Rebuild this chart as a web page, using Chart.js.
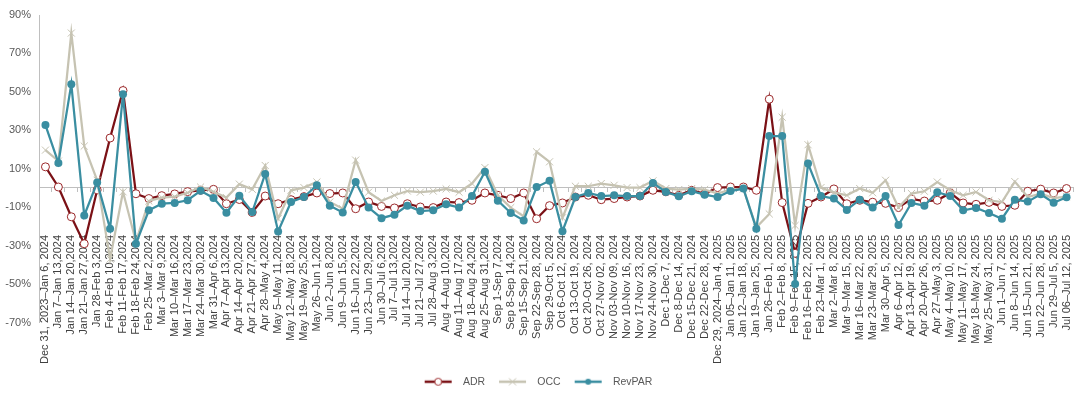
<!DOCTYPE html>
<html>
<head>
<meta charset="utf-8">
<script src="https://cdn.jsdelivr.net/npm/chart.js@4.4.1/dist/chart.umd.min.js"></script>
<style>
  html, body { margin: 0; padding: 0; background: #fff; }
  #wrap { width: 1080px; height: 399px; position: relative; }
</style>
</head>
<body>
<div id="wrap"><canvas id="chart"></canvas></div>
<script>
// Weekly periods (x axis)
const weeks = [
  "Dec 31, 2023–Jan 6, 2024", "Jan 7–Jan 13,2024", "Jan 14–Jan 20,2024", "Jan 21–Jan 27,2024",
  "Jan 28-Feb 3,2024", "Feb 4-Feb 10,2024", "Feb 11-Feb 17,2024", "Feb 18-Feb 24,2024",
  "Feb 25–Mar 2,2024", "Mar 3–Mar 9,2024", "Mar 10–Mar 16,2024", "Mar 17–Mar 23,2024",
  "Mar 24–Mar 30,2024", "Mar 31–Apr 6,2024", "Apr 7–Apr 13,2024", "Apr 14–Apr 20,2024",
  "Apr 21–Apr 27,2024", "Apr 28–May 4,2024", "May 5–May 11,2024", "May 12–May 18,2024",
  "May 19–May 25,2024", "May 26–Jun 1,2024", "Jun 2–Jun 8,2024", "Jun 9–Jun 15,2024",
  "Jun 16–Jun 22,2024", "Jun 23–Jun 29,2024", "Jun 30–Jul 6,2024", "Jul 7–Jul 13,2024",
  "Jul 14–Jul 20,2024", "Jul 21–Jul 27,2024", "Jul 28–Aug 3,2024", "Aug 4–Aug 10,2024",
  "Aug 11–Aug 17,2024", "Aug 18–Aug 24,2024", "Aug 25–Aug 31,2024", "Sep 1-Sep 7,2024",
  "Sep 8-Sep 14,2024", "Sep 15-Sep 21,2024", "Sep 22-Sep 28, 2024", "Sep 29-Oct 5, 2024",
  "Oct 6-Oct 12, 2024", "Oct 13-Oct 19, 2024", "Oct 20-Oct 26, 2024", "Oct 27-Nov 02, 2024",
  "Nov 03-Nov 09, 2024", "Nov 10-Nov 16, 2024", "Nov 17-Nov 23, 2024", "Nov 24-Nov 30, 2024",
  "Dec 1-Dec 7, 2024", "Dec 8-Dec 14, 2024", "Dec 15-Dec 21, 2024", "Dec 22-Dec 28, 2024",
  "Dec 29, 2024–Jan 4, 2025", "Jan 05–Jan 11, 2025", "Jan 12–Jan 18, 2025", "Jan 19–Jan 25, 2025",
  "Jan 26–Feb 1, 2025", "Feb 2–Feb 8, 2025", "Feb 9–Feb 15, 2025", "Feb 16–Feb 22, 2025",
  "Feb 23–Mar 1, 2025", "Mar 2–Mar 8, 2025", "Mar 9–Mar 15, 2025", "Mar 16–Mar 22, 2025",
  "Mar 23–Mar 29, 2025", "Mar 30–Apr 5, 2025", "Apr 6–Apr 12, 2025", "Apr 13–Apr 19, 2025",
  "Apr 20–Apr 26, 2025", "Apr 27–May 3, 2025", "May 4–May 10, 2025", "May 11–May 17, 2025",
  "May 18–May 24, 2025", "May 25–May 31, 2025", "Jun 1–Jun 7, 2025", "Jun 8–Jun 14, 2025",
  "Jun 15–Jun 21, 2025", "Jun 22–Jun 28, 2025", "Jun 29–Jul 5, 2025", "Jul 06–Jul 12, 2025"
];

// Year-over-year change, %
const adr = [
  11, 0.5, -15, -29, -1, 26, 50.7, -3, -5.5, -4,
  -3.1, -1.9, -1.2, -0.7, -8.2, -6, -12.7, -4.2, -8.2, -6.1,
  -4.5, -2.6, -2.9, -2.6, -10.8, -7.3, -9.6, -10.4, -8.2, -9.9,
  -10.2, -7.3, -7.6, -6.4, -2.6, -3.8, -5.5, -2.6, -16, -9.2,
  -7.8, -4.7, -3.8, -6.1, -5.5, -4.7, -4.2, -1.2, -2, -3.8,
  -1.2, -3, 0.2, 0.5, 0.5, -1.2, 46.2, -7.6, -34, -8,
  -4.7, -0.5, -8.2, -6.4, -7.4, -8, -10.2, -5.7, -6.8, -6.4,
  -2.6, -7.8, -8.5, -7.5, -9.6, -9, -1.7, -0.6, -2.6, -0.3
];
const occ = [
  19.7, 14, 80.6, 21.8, 4, -37, -2, -28, -6.8, -5,
  -4.5, -2.5, 0.5, -2, -5, 2, -0.7, 11.7, -16, -1.2,
  0.2, 3.1, -7.3, -10.8, 14.5, -2.2, -6.8, -3.8, -1.6, -2.2,
  -1.6, -0.5, -2.2, 2.3, 10.6, -3.8, -10.2, -14.8, 18.8, 13.6,
  -15.5, 0.9, 0.9, 2.3, 1.4, 0.2, 0.2, 3.7, -0.3, -0.8,
  -0.3, -0.8, -2.9, -0.8, -0.5, -20.5, -13.5, 36.8, -19.5, 22.5,
  0.2, -2.3, -3.8, -0.3, -2.5, 4, -10.2, -2.9, -1.7, 3.1,
  -1.2, -3.8, -2.1, -6.4, -7.3, 3.3, -4.7, -3, -5.3, -4.5
];
const revpar = [
  32.7, 13, 54, -14.3, 2.8, -21.2, 48.8, -29, -11.6, -8.2,
  -7.8, -6.4, -1.5, -5.2, -12.9, -4.1, -12.5, 7.3, -22.6, -7.3,
  -4.7, 1.4, -9.2, -12.7, 3.1, -10.2, -15.7, -13.9, -9.2, -12,
  -11.6, -8.5, -10.2, -4.2, 8.4, -6.6, -13, -16.9, 0.5, 3.7,
  -22.5, -4.7, -2.6, -4.2, -3.8, -4.2, -4.2, 2.6, -2.1, -4.3,
  -1.7, -3.5, -4.7, -1.6, -0.3, -21.2, 27, 27, -50, 12.7,
  -4.2, -5.5, -11.4, -6.1, -10.2, -4.2, -19.3, -7.8, -9.2, -2.2,
  -4.2, -11.6, -10.4, -13, -16, -6.1, -7.1, -3.3, -7.7, -4.8
];

const yTicks = [-70, -50, -30, -10, 10, 30, 50, 70, 90];

const colors = {
  adr: '#7b1116',
  adrMarker: '#9c2a2c',
  occ: '#c6c3b2',
  revpar: '#3a8ea1',
  axis: '#bfbfbf'
};

Chart.defaults.font.family = "'Liberation Sans', Arial, sans-serif";

// Legend icon: short line with the series marker in the middle
function legendIcon(color, marker) {
  const c = document.createElement('canvas');
  c.width = 37;
  c.height = 12;
  const g = c.getContext('2d');
  g.strokeStyle = color;
  g.lineWidth = 2.5;
  g.beginPath();
  g.moveTo(4, 6);
  g.lineTo(31, 6);
  g.stroke();
  const cx = 17.5, cy = 6;
  if (marker === 'open') {
    g.fillStyle = '#fff';
    g.strokeStyle = colors.adrMarker;
    g.lineWidth = 1;
    g.beginPath(); g.arc(cx, cy, 3.5, 0, Math.PI * 2); g.fill(); g.stroke();
  } else if (marker === 'x') {
    g.lineWidth = 1;
    g.beginPath();
    g.moveTo(cx - 3.5, cy - 3.5); g.lineTo(cx + 3.5, cy + 3.5);
    g.moveTo(cx + 3.5, cy - 3.5); g.lineTo(cx - 3.5, cy + 3.5);
    g.stroke();
  } else {
    g.fillStyle = color;
    g.beginPath(); g.arc(cx, cy, 3, 0, Math.PI * 2); g.fill();
  }
  return c;
}

const icons = [
  legendIcon(colors.adr, 'open'),
  legendIcon(colors.occ, 'x'),
  legendIcon(colors.revpar, 'dot')
];

const ctx = document.getElementById('chart').getContext('2d');

new Chart(ctx, {
  type: 'line',
  data: {
    labels: weeks,
    datasets: [
      {
        label: 'ADR',
        data: adr,
        xAxisID: 'x',
        borderColor: colors.adr,
        borderWidth: 2.25,
        pointStyle: 'circle',
        pointRadius: 4,
        pointBorderWidth: 1,
        pointBackgroundColor: '#fff',
        pointBorderColor: colors.adrMarker,
        tension: 0,
        order: 3
      },
      {
        label: 'OCC',
        data: occ,
        xAxisID: 'x',
        borderColor: colors.occ,
        borderWidth: 2.25,
        pointStyle: 'crossRot',
        pointRadius: 5,
        pointBorderWidth: 1,
        pointBorderColor: colors.occ,
        tension: 0,
        order: 2
      },
      {
        label: 'RevPAR',
        data: revpar,
        xAxisID: 'x',
        borderColor: colors.revpar,
        borderWidth: 2.25,
        pointStyle: 'circle',
        pointRadius: 4,
        pointBorderWidth: 0,
        pointBackgroundColor: colors.revpar,
        tension: 0,
        order: 1
      }
    ]
  },
  options: {
    responsive: true,
    maintainAspectRatio: false,
    animation: false,
    layout: { padding: { top: 15, right: 7, bottom: 2, left: 0 } },
    plugins: {
      tooltip: { enabled: false },
      legend: {
        position: 'bottom',
        labels: {
          usePointStyle: true,
          pointStyleWidth: 37,
          boxHeight: 11,
          padding: 10,
          color: '#595959',
          font: { size: 10.5 },
          generateLabels: chart => chart.data.datasets.map((ds, i) => ({
            text: ds.label,
            pointStyle: icons[i],
            datasetIndex: i,
            fillStyle: 'transparent',
            strokeStyle: 'transparent',
            lineWidth: 0,
            hidden: false,
            fontColor: '#595959'
          }))
        }
      }
    },
    scales: {
      // category axis sitting on the 0% line, labels pushed down
      x: {
        type: 'category',
        position: { y: 0 },
        offset: true,
        grid: {
          drawOnChartArea: false,
          drawTicks: true,
          tickLength: 4,
          color: colors.axis,
          offset: true
        },
        border: { color: colors.axis, width: 1 },
        ticks: {
          autoSkip: false,
          minRotation: 90,
          maxRotation: 90,
          padding: 43,
          color: '#404040',
          font: { size: 11 }
        },
        // the big label padding should not eat into the plot width
        afterFit: s => { s.paddingLeft = 0; s.paddingRight = 0; }
      },
      // empty band between plot and legend
      gap: {
        type: 'category',
        position: 'bottom',
        offset: true,
        grid: { display: false },
        border: { display: false },
        ticks: { display: false },
        afterFit: s => { s.height = 44; }
      },
      y: {
        min: -70,
        max: 90,
        afterBuildTicks: s => { s.ticks = yTicks.map(v => ({ value: v })); },
        grid: { display: false, drawTicks: false },
        border: { color: colors.axis, width: 1 },
        ticks: {
          padding: 8,
          color: '#595959',
          font: { size: 11 },
          callback: v => v + '%'
        },
        afterFit: s => { s.width = 39; }
      }
    }
  }
});
</script>
</body>
</html>
